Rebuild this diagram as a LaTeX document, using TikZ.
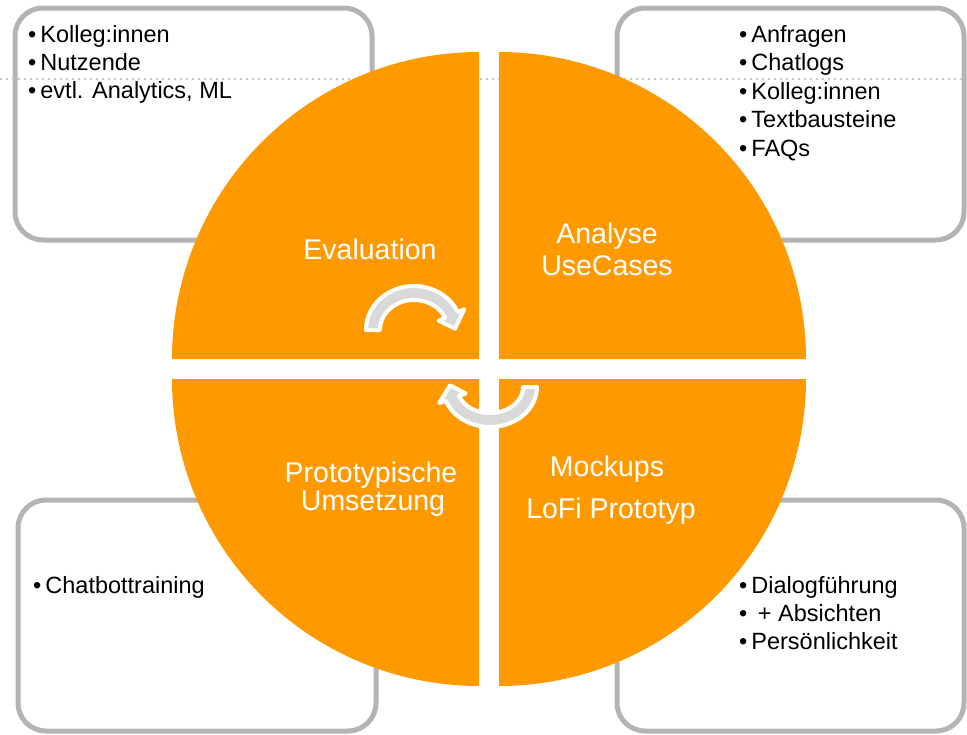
\documentclass[tikz,border=0pt]{standalone}
\usepackage{fontspec}
\setmainfont{Liberation Sans}
\definecolor{qorange}{RGB}{255,153,0}
\definecolor{boxgray}{RGB}{180,180,180}
\definecolor{arrgray}{RGB}{217,217,217}
\definecolor{dotgray}{RGB}{200,200,200}
\newcommand{\bl}[1]{•\kern4pt #1}
\begin{document}
\begin{tikzpicture}[x=1pt,y=-1pt,
  infobox/.style={draw=boxgray,line width=5pt,fill=white,rounded corners=28pt},
  quad/.style={fill=qorange},
  qlabel/.style={text=white,font=\fontsize{28.5}{30}\selectfont,anchor=base,inner sep=0pt},
  blabel/.style={text=black,font=\fontsize{23.5}{28}\selectfont,anchor=base west,inner sep=0pt},
  cyc/.style={fill=arrgray,draw=white,line width=4pt,line join=round}]
\useasboundingbox (0,0) rectangle (967,734);
% info boxes
\draw[infobox] (15,8) rectangle (372,240);
\draw[infobox] (617,8) rectangle (964,240);
\draw[infobox] (18,500) rectangle (376,731);
\draw[infobox] (617,500) rectangle (964,731);
% dotted guide
\draw[dotgray,line width=1.5pt,dash pattern=on 1.5pt off 4.5pt] (0,79) -- (967,79);
% quadrants
\fill[quad] (479,359) -- plot[domain=180:270,samples=80] ({479+307*cos(\x)},{359+307*sin(\x)}) -- cycle;
\fill[quad] (499,359) -- plot[domain=270:360,samples=80] ({499+307*cos(\x)},{359+307*sin(\x)}) -- cycle;
\fill[quad] (499,379) -- plot[domain=0:90,samples=80] ({499+307*cos(\x)},{379+307*sin(\x)}) -- cycle;
\fill[quad] (479,379) -- plot[domain=90:180,samples=80] ({479+307*cos(\x)},{379+307*sin(\x)}) -- cycle;
% quadrant labels
\node[qlabel] (eval) at (370,259) {Evaluation};
\node[qlabel] (ana1) at (607,243) {Analyse};
\node[qlabel] (ana2) at (607,275) {UseCases};
\node[qlabel] (pro1) at (371,482) {Prototypische};
\node[qlabel] (pro2) at (373,510) {Umsetzung};
\node[qlabel] (moc1) at (607,476) {Mockups};
\node[qlabel] (moc2) at (611,518) {LoFi Prototyp};
% box texts
\node[blabel] (tl1) at (28,42) {\bl{Kolleg:innen}};
\node[blabel] (tl2) at (28,70) {\bl{Nutzende}};
\node[blabel] (tl3) at (28,98) {\bl{evtl. Analytics, ML}};
\node[blabel] (tr1) at (739,42) {\bl{Anfragen}};
\node[blabel] (tr2) at (739,70.5) {\bl{Chatlogs}};
\node[blabel] (tr3) at (739,99) {\bl{Kolleg:innen}};
\node[blabel] (tr4) at (739,127.5) {\bl{Textbausteine}};
\node[blabel] (tr5) at (739,156) {\bl{FAQs}};
\node[blabel] (bl1) at (33,593) {\bl{Chatbottraining}};
\node[blabel] (br1) at (739,593) {\bl{Dialogführung}};
\node[blabel] (br2) at (739,621) {\bl{\ + Absichten}};
\node[blabel] (br3) at (739,649) {\bl{Persönlichkeit}};
% cycle arrows
\filldraw[cyc] plot[domain=180:336,samples=50] ({414+48*cos(\x)},{330+44*sin(\x)})
  -- ({414+55*cos(336)},{330+51*sin(336)})
  -- ({414+41*cos(358)},{330+37*sin(358)})
  -- ({414+27*cos(336)},{330+23*sin(336)})
  -- plot[domain=336:180,samples=50] ({414+34*cos(\x)},{330+30*sin(\x)}) -- cycle;
\filldraw[cyc] plot[domain=0:160,samples=50] ({490+47*cos(\x)},{387+40*sin(\x)})
  -- ({490+54*cos(160)},{387+47*sin(160)})
  -- ({490+40*cos(183)},{387+33*sin(183)})
  -- ({490+26*cos(160)},{387+19*sin(160)})
  -- plot[domain=160:0,samples=50] ({490+33*cos(\x)},{387+26*sin(\x)}) -- cycle;
\end{tikzpicture}
\end{document}
